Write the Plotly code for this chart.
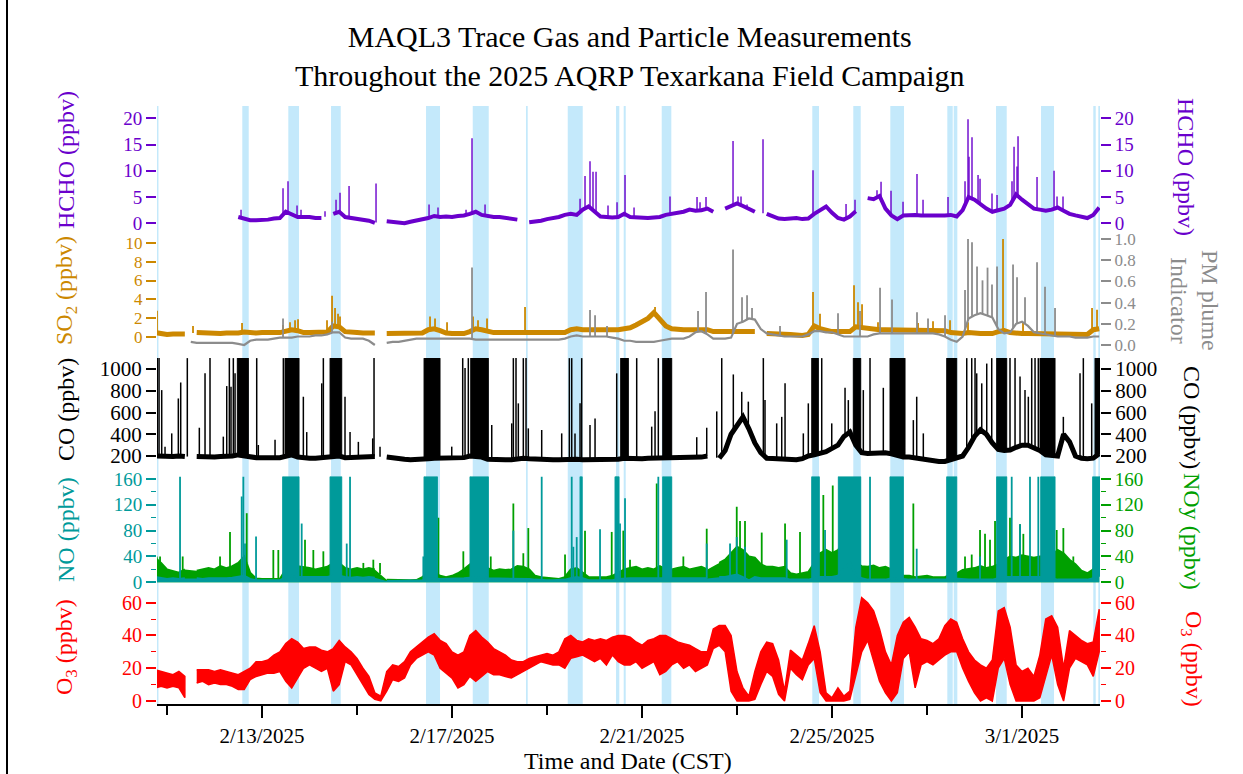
import numpy as np
import pandas as pd
import plotly.graph_objects as go

# ---------------- data ----------------
GRID_START = "2025-02-10 18:00"   # first point of the 3-hourly base grid
GRID_STEP_HOURS = 3
DAY_ZERO = "2025-02-10 00:00"     # spike / burst times are days after this
N = None

HCHO = [N, N, N, N, N, N, N, N,
        N, N, N, N, N, N, 1.2, 0.9,
        0.6, 0.6, 0.6, 0.7, 0.9, 1.0, 2.2, 1.8,
        1.2, 1.2, 1.2, 1.0, 1.0, N, 1.8, 2.2,
        1.2, 1.0, 0.9, 0.7, 0.5, 0.1, N, 0.4,
        0.3, 0.1, 0.0, 0.3, 0.5, 0.8, 1.0, 1.4,
        1.2, 1.3, 1.2, 1.4, 1.5, 1.8, 2.2, 1.6,
        1.4, 1.2, 1.2, 1.0, 0.9, 0.7, N, 0.2,
        0.3, 0.5, 0.8, 1.0, 1.2, 1.6, 1.8, 1.6,
        2.6, 3.2, 2.2, 1.3, 1.2, 1.1, 1.2, 1.8,
        1.2, 1.1, 1.0, 1.0, 1.1, 1.2, 1.6, 1.8,
        2.0, 2.2, 2.6, 2.4, 2.5, 2.8, 2.2, N,
        2.8, 3.4, 3.8, 3.3, 2.8, 2.2, N, 1.8,
        1.3, 0.9, 0.8, 0.9, 1.0, 0.8, 0.9, 1.8,
        2.4, 3.2, 2.0, 1.0, 0.7, 1.3, 2.3, N,
        4.8, 4.6, 5.2, 2.8, 1.5, 0.8, 1.5, 1.6,
        1.6, 1.5, 1.5, 1.4, 1.4, 1.5, 1.6, 1.3,
        2.5, 5.0, 4.5, 3.6, 2.8, 2.2, 2.5, 2.8,
        3.5, 5.5, 4.5, 3.6, 2.8, 2.6, 2.4, 2.6,
        3.0, 2.4, 1.8, 1.5, 1.2, 1.0, 1.6, 3.0]

SO2 = [0.5, 0.35, 0.3, 0.35, 0.3, 0.35, N, 0.5,
       0.45, 0.4, 0.45, 0.4, 0.45, 0.4, 0.45, 0.55,
       0.45, 0.45, 0.5, 0.45, 0.5, 0.5, 0.7, 0.8,
       0.7, 0.5, 0.5, 0.5, 0.5, 0.55, 1.2, 1.1,
       0.6, 0.5, 0.5, 0.45, 0.5, 0.45, N, 0.4,
       0.4, 0.4, 0.4, 0.4, 0.4, 0.45, 0.8, 0.9,
       0.7, 0.45, 0.4, 0.45, 0.4, 0.6, 0.9, 0.8,
       0.6, 0.5, 0.5, 0.5, 0.45, 0.5, 0.5, 0.5,
       0.45, 0.5, 0.5, 0.45, 0.5, 0.5, 0.8, 0.9,
       0.8, 0.8, 0.7, 0.8, 0.8, 0.7, 0.8, 0.9,
       1.0, 1.3, 1.6, 2.0, 2.6, 1.9, 1.2, 0.9,
       0.8, 0.8, 0.8, 0.8, 0.8, 0.8, 0.6, 0.6,
       0.6, 0.6, 0.6, 0.6, 0.6, 0.6, N, 0.4,
       0.4, 0.4, 0.35, 0.3, 0.25, 0.2, 0.3, 1.2,
       0.9, 0.7, 0.6, 0.6, 0.6, 0.6, 1.1, 1.0,
       0.9, 0.8, 0.8, 0.8, 0.8, 0.8, 0.7, 0.8,
       0.8, 0.8, 0.7, 0.8, 0.8, 0.7, 0.5, 0.4,
       0.4, 0.5, 0.4, 0.4, 0.4, 0.4, 0.6, 0.7,
       0.5, 0.4, 0.4, 0.4, 0.4, 0.4, 0.4, 0.35,
       0.35, 0.3, 0.3, 0.35, 0.3, 0.3, 0.8, 0.9]

PM = [N, N, N, N, N, N, 0.03, 0.02,
      0.02, 0.02, 0.02, 0.02, 0.02, 0.02, 0.01, 0.0,
      0.04, 0.05, 0.05, 0.05, 0.06, 0.07, 0.07, 0.07,
      0.08, 0.08, 0.08, 0.09, 0.09, 0.1, 0.12, 0.12,
      0.07, 0.06, 0.06, 0.06, 0.04, 0.0, N, 0.02,
      0.03, 0.03, 0.04, 0.05, 0.06, 0.06, 0.06, 0.06,
      0.06, 0.06, 0.06, 0.06, 0.06, 0.06, 0.05, 0.05,
      0.05, 0.05, 0.05, 0.05, 0.05, 0.05, 0.05, 0.05,
      0.05, 0.05, 0.05, 0.05, 0.05, 0.06, 0.08, 0.09,
      0.08, 0.08, 0.08, 0.08, 0.08, 0.07, 0.06, 0.04,
      0.04, 0.03, 0.03, 0.03, 0.03, 0.04, 0.05, 0.06,
      0.06, 0.06, 0.08, 0.12, 0.13, 0.1, 0.06, 0.06,
      0.06, 0.07, 0.2, 0.22, 0.25, 0.24, 0.15, 0.11,
      0.1, 0.09, 0.08, 0.08, 0.08, 0.08, 0.1, 0.13,
      0.13, 0.12, 0.12, 0.1, 0.08, 0.08, 0.08, 0.08,
      0.08, 0.1, 0.11, 0.11, 0.11, 0.11, 0.11, 0.11,
      0.11, 0.11, 0.11, 0.11, 0.1, 0.08, 0.05, 0.03,
      0.08, 0.25, 0.28, 0.3, 0.28, 0.26, 0.15, 0.11,
      0.12, 0.2, 0.22, 0.18, 0.12, 0.11, 0.1, 0.09,
      0.08, 0.08, 0.08, 0.07, 0.07, 0.07, 0.08, 0.08]

CO = [200, 195, 190, 195, 200, 195, N, 195,
      190, 195, 190, 195, 195, 200, 210, 200,
      190, 185, 185, 180, 185, 185, 200, 210,
      190, 180, 180, 180, 185, 185, 200, 200,
      185, 185, 185, 190, 190, 195, N, 190,
      180, 175, 170, 165, 165, 170, 175, 180,
      180, 175, 180, 180, 185, 200, 200, 190,
      170, 165, 160, 165, 165, 175, 180, 175,
      170, 170, 165, 165, 165, 170, 170, 170,
      165, 165, 165, 165, 165, 165, 170, 180,
      175, 175, 175, 180, 180, 180, 180, 180,
      180, 180, 185, 185, 190, 200, N, 180,
      250, 400, 480, 560, 450, 320, 230, 180,
      178, 175, 172, 168, 165, 175, 200, 210,
      225, 240, 270, 300, 380, 420, 300, 230,
      224, 226, 222, 230, 220, 200, 190, 190,
      180, 170, 165, 160, 150, 150, 170, 190,
      200, 280, 380, 440, 400, 320, 260, 250,
      255, 280, 300, 300, 280, 250, 210, 200,
      200, 400, 330, 200, 180, 175, 180, 220]

NO = [8, 6, 5, 6, 5, 6, N, 6,
      5, 6, 6, 5, 6, 7, 8, 10,
      5, 3, 3, 3, 2, 3, 8, 10,
      8, 8, 7, 8, 7, 8, 10, 10,
      8, 7, 8, 7, 8, 7, N, 2,
      2, 2, 2, 2, 2, 3, 5, 6,
      5, 5, 5, 6, 6, 7, 8, 8,
      6, 6, 5, 6, 6, 6, 6, 5,
      4, 3, 3, 3, 3, 4, 6, 8,
      6, 3, 3, 3, 3, 3, 5, 6,
      6, 6, 6, 6, 6, 6, 6, 6,
      6, 6, 6, 6, 6, 6, N, 8,
      8, 10, 12, 8, 3, 8, 6, 6,
      6, 6, 6, 4, 4, 4, 4, 6,
      8, 8, 8, 10, 20, 30, 12, 6,
      4, 4, 4, 4, 6, 6, 5, 4,
      4, 4, 4, 4, 4, 4, 6, 5,
      4, 4, 4, 4, 4, 4, 6, 8,
      8, 8, 8, 8, 8, 8, 6, 6,
      4, 4, 4, 4, 4, 4, 6, 10]

NOY = [38, 30, 20, 18, 15, 20, N, 18,
       20, 22, 20, 25, 22, 25, 30, 40,
       15, 6, 5, 5, 4, 5, 20, 30,
       25, 24, 22, 20, 22, 24, 30, 30,
       22, 20, 22, 20, 22, 20, N, 4,
       3.5, 3.5, 3.5, 3, 3.5, 8, 15, 15,
       10, 8, 10, 14, 20, 28, 35, 30,
       22, 18, 20, 19, 20, 25, 24, 20,
       10, 8, 7, 6, 5, 8, 20, 22,
       15, 8, 8, 8, 8, 10, 15, 20,
       22, 24, 20, 22, 20, 25, 20, 20,
       22, 24, 20, 22, 24, 20, N, 30,
       35, 45, 55, 50, 40, 38, 28, 24,
       24, 22, 24, 14, 12, 14, 16, 30,
       45, 50, 45, 50, 60, 50, 30, 25,
       24, 26, 22, 24, 20, 14, 10, 10,
       8, 9, 10, 8, 8, 8, 12, 14,
       19, 20, 22, 25, 22, 24, 28, 35,
       40, 38, 42, 40, 38, 40, 40, 42,
       50, 45, 35, 28, 18, 14, 20, 40]

O3_HI = [19, 18, 17, 16, 18, 15, N, 19,
         19, 19, 18, 19, 18, 17, 16, 18,
         20, 24, 24, 25, 28, 30, 35, 38,
         36, 32, 33, 33, 31, 30, 32, 37,
         33, 30, 26, 20, 15, 5, 3, 18,
         22, 21, 24, 30, 33, 36, 39, 41,
         37, 35, 30, 28, 30, 40, 43, 39,
         36, 32, 30, 28, 25, 24, 24, 26,
         27, 28, 29, 28, 30, 38, 40, 37,
         36, 38, 37, 38, 37, 39, 40, 40,
         39, 36, 34, 37, 38, 40, 40, 38,
         36, 35, 34, 32, 30, 30, 44, 46,
         46, 40, 18, 8, 3, 18, 30, 36,
         35, 25, 6, 31, 28, 25, 35, 46,
         30, 5, 2, 8, 3, 6, 45, 63,
         60, 55, 44, 30, 22, 40, 48, 51,
         45, 38, 37, 35, 38, 46, 50, 48,
         38, 30, 25, 22, 20, 25, 55, 57,
         45, 22, 18, 20, 15, 28, 50, 52,
         45, 20, 43, 40, 37, 35, 36, 56]

O3_LO = [8, 9, 8, 9, 8, 2, N, 11,
         12, 10, 11, 10, 10, 9, 7, 7,
         13, 15, 16, 17, 17, 18, 12, 8,
         14, 20, 22, 20, 18, 20, 6, 10,
         24, 22, 16, 10, 4, 1, 0, 6,
         13, 12, 14, 22, 26, 28, 30, 28,
         20, 17, 14, 8, 10, 15, 12, 15,
         18, 16, 16, 15, 14, 16, 18, 20,
         22, 24, 23, 22, 22, 20, 26, 27,
         28, 26, 24, 26, 22, 28, 24, 22,
         22, 24, 20, 22, 24, 16, 18, 22,
         24, 20, 22, 18, 20, 22, 32, 34,
         30, 6, 0, 0, 0, 1, 10, 18,
         15, 4, 0, 20, 16, 13, 22, 26,
         5, 0, 0, 0, 0, 1, 15, 30,
         37, 25, 12, 5, 0, 5, 26, 30,
         8, 22, 24, 22, 25, 28, 30, 30,
         20, 12, 5, 0, 2, 0, 20, 26,
         10, 0, 0, 0, 0, 2, 15, 28,
         10, 0, 20, 26, 24, 22, 15, 30]

# spikes: time (days after DAY_ZERO) and peak value
HCHO_SPK_T = [2.558, 3.442, 3.547, 3.737, 3.821, 4.326, 4.558, 4.642, 4.832, 5.400,
              6.516, 6.705, 7.295, 7.421, 7.695, 9.695, 9.800, 9.905, 9.968, 10.032,
              10.284, 10.474, 10.642, 10.832, 11.589, 12.158, 12.221, 12.347, 12.916, 13.021,
              13.084, 13.211, 13.547, 14.600, 15.295, 15.484, 15.947, 16.032, 16.242, 16.495,
              16.789, 16.916, 17.442, 17.800, 17.863, 17.884, 17.947, 18.074, 18.116, 18.368,
              18.474, 18.789, 18.832, 18.895, 18.916, 19.316, 19.674, 19.737, 19.863]
HCHO_SPK_V = [2.6, 6.7, 8.0, 3.4, 2.6, 2.3, 4.5, 5.8, 7.1, 7.6,
              3.6, 3.0, 2.6, 16.2, 3.6, 4.7, 9.0, 11.8, 9.8, 9.8,
              3.4, 4.0, 9.2, 3.0, 5.1, 5.0, 4.0, 5.0, 15.7, 5.1,
              5.1, 3.6, 16.0, 10.1, 3.7, 4.5, 6.3, 7.9, 6.2, 4.1,
              9.4, 4.5, 5.0, 8.0, 19.8, 12.7, 16.4, 9.2, 8.5, 5.7,
              5.4, 8.0, 14.6, 10.8, 16.6, 8.8, 10.0, 5.1, 5.1]

SO2_SPK_T = [0.789, 1.547, 2.579, 3.442, 3.589, 3.695, 3.758, 4.368, 4.474, 4.537,
             4.600, 4.642, 6.537, 6.642, 6.895, 7.442, 7.547, 7.737, 8.537, 11.274,
             14.600, 14.747, 15.463, 15.547, 15.632, 15.968, 16.811, 17.126, 17.484, 17.863,
             18.600, 19.021, 20.474, 20.579]
SO2_SPK_V = [2.8, 1.2, 1.5, 1.3, 1.6, 1.8, 1.9, 1.8, 4.4, 3.1,
             2.5, 2.2, 2.2, 2.0, 1.6, 2.2, 1.8, 2.0, 3.2, 3.2,
             4.8, 2.5, 5.5, 3.7, 3.5, 1.6, 1.5, 1.7, 1.8, 1.6,
             10.4, 1.5, 3.1, 2.9]

PM_SPK_T = [3.442, 4.474, 7.421, 9.905, 10.011, 10.263, 12.179, 12.347, 12.916, 13.105,
            13.211, 13.316, 13.905, 15.126, 15.589, 16.011, 16.263, 16.789, 17.021, 17.379,
            17.800, 17.863, 17.947, 18.053, 18.168, 18.274, 18.368, 18.474, 18.811, 18.895,
            19.063, 19.316, 19.484, 19.695]
PM_SPK_V = [0.25, 0.22, 0.73, 0.33, 0.28, 0.18, 0.32, 0.50, 0.90, 0.45,
            0.47, 0.35, 0.18, 0.30, 0.32, 0.54, 0.43, 0.31, 0.25, 0.28,
            0.52, 1.00, 0.97, 0.74, 0.61, 0.73, 0.57, 0.74, 0.76, 0.64,
            0.45, 0.78, 0.55, 0.35]

CO_SPK_T = [0.796, 0.832, 0.888, 0.958, 1.099, 1.238, 1.288, 1.427, 1.680, 1.800,
            1.905, 2.185, 2.257, 2.312, 2.347, 2.396, 2.432, 2.888, 2.922, 3.274,
            3.449, 3.870, 3.941, 4.257, 4.291, 4.747, 4.853, 5.028, 5.330, 5.358,
            5.484, 6.994, 7.225, 7.274, 7.343, 7.836, 8.257, 8.291, 8.347, 8.396,
            8.501, 8.558, 8.606, 8.888, 9.309, 9.470, 9.520, 9.589, 9.695, 9.730,
            9.905, 10.011, 10.467, 10.888, 11.204, 11.274, 11.343, 12.152, 12.362, 12.573,
            12.678, 12.922, 13.099, 13.238, 13.554, 13.589, 13.835, 13.941, 14.011, 14.396,
            14.501, 14.783, 14.994, 15.274, 15.343, 15.659, 15.800, 16.080, 16.712, 16.783,
            16.922, 17.836, 17.941, 18.011, 18.046, 18.152, 18.257, 18.362, 18.747, 18.853,
            18.958, 19.063, 19.133, 19.204, 19.274, 19.343, 19.870, 20.221, 20.291, 20.467]
CO_SPK_V = [1100, 1100, 806, 286, 408, 729, 876, 1100, 460, 960,
            1100, 378, 843, 1100, 837, 1100, 960, 1100, 301, 350,
            1100, 745, 420, 868, 1100, 745, 420, 330, 362, 1100,
            286, 286, 1100, 1010, 1100, 485, 500, 1100, 1100, 684,
            1100, 1100, 454, 439, 408, 1100, 1100, 408, 684, 1100,
            485, 545, 960, 1100, 470, 612, 1100, 373, 460, 610,
            1100, 950, 790, 700, 1100, 714, 500, 560, 868, 408,
            684, 1100, 500, 827, 714, 806, 1100, 827, 530, 745,
            408, 1100, 1100, 1100, 960, 868, 1050, 1100, 1100, 1100,
            930, 806, 745, 1100, 1100, 1100, 560, 960, 1100, 684]

NO_SPK_T = [1.274, 2.572, 2.607, 2.642, 2.874, 3.835, 4.783, 4.853, 6.396, 8.291,
            8.888, 9.520, 9.554, 9.625, 10.116, 10.537, 10.642, 11.343, 12.362, 12.853,
            12.994, 13.168, 14.046, 14.853, 15.800, 16.783, 18.116, 18.783, 18.958, 19.168,
            19.343]
NO_SPK_V = [164, 133, 164, 60, 71, 91, 60, 164, 40, 80,
            164, 164, 55, 70, 82, 91, 130, 164, 60, 60,
            70, 55, 66, 81, 164, 52, 40, 164, 90, 164,
            164]

NOY_SPK_T = [0.783, 0.853, 1.330, 2.116, 2.326, 2.678, 3.238, 3.343, 3.905, 4.080,
             4.291, 5.133, 5.343, 5.484, 6.642, 6.712, 7.238, 7.815, 8.291, 8.501,
             8.606, 9.379, 9.800, 10.362, 10.467, 10.606, 10.747, 11.309, 11.870, 12.362,
             12.994, 13.063, 13.168, 13.520, 14.011, 14.326, 14.817, 15.015, 15.554, 16.712,
             17.800, 17.941, 18.116, 18.221, 18.326, 18.432, 18.747, 18.958, 19.028, 19.730,
             19.870, 20.080]
NOY_SPK_V = [40, 40, 40, 40, 78, 107, 50, 50, 66, 50,
             48, 30, 35, 30, 128, 100, 48, 40, 122, 45,
             84, 43, 80, 78, 164, 80, 35, 153, 40, 83,
             117, 95, 95, 77, 91, 78, 135, 150, 105, 122,
             40, 43, 81, 75, 66, 95, 100, 90, 75, 81,
             84, 40]

# saturated bursts (start, end in days after DAY_ZERO)
CO_BURST_START = [2.480, 3.484, 4.432, 6.411, 7.394, 10.551, 11.436, 14.573, 15.448,
                  16.221, 17.415, 18.467, 19.379, 20.537]
CO_BURST_END = [2.712, 3.779, 4.678, 6.747, 7.764, 10.712, 11.625, 14.712, 15.604,
                16.537, 17.625, 18.678, 19.695, 20.642]
CO_BURST_TOP = 1100
NO_BURST_START = [3.435, 4.432, 6.411, 7.379, 9.695, 10.432, 11.436, 14.573, 15.133,
                  16.221, 17.415, 18.467, 19.394, 20.488]
NO_BURST_END = [3.779, 4.678, 6.691, 7.764, 9.740, 10.516, 11.625, 14.732, 15.604,
                16.501, 17.625, 18.678, 19.695, 20.642]
NO_BURST_TOP = 164

# highlighted periods (blue bands)
BAND_START = ["2025-02-10 18:40", "2025-02-12 14:02", "2025-02-13 13:17", "2025-02-14 10:52",
              "2025-02-16 10:52", "2025-02-17 10:28", "2025-02-18 13:23", "2025-02-19 10:28",
              "2025-02-20 10:52", "2025-02-20 14:45", "2025-02-21 09:57", "2025-02-24 14:02",
              "2025-02-25 10:45", "2025-02-26 05:27", "2025-02-27 10:15", "2025-02-27 13:29",
              "2025-02-28 10:52", "2025-03-01 09:36", "2025-03-02 12:01", "2025-03-02 14:33"]
BAND_END = ["2025-02-10 19:40", "2025-02-12 17:17", "2025-02-13 18:42", "2025-02-14 15:46",
            "2025-02-16 17:56", "2025-02-17 18:33", "2025-02-18 14:15", "2025-02-19 18:02",
            "2025-02-20 12:32", "2025-02-20 15:46", "2025-02-21 14:48", "2025-02-24 17:25",
            "2025-02-25 14:30", "2025-02-26 12:23", "2025-02-27 12:59", "2025-02-27 15:19",
            "2025-02-28 16:16", "2025-03-01 16:10", "2025-03-02 13:15", "2025-03-02 15:24"]

X_START = "2025-02-10 18:56"
X_END = "2025-03-02 15:24"

# ---------------- helpers ----------------
n_grid = len(HCHO)
grid_t = pd.Timestamp(GRID_START) + pd.to_timedelta(np.arange(n_grid) * GRID_STEP_HOURS, unit="h")
grid_d = np.asarray((grid_t - pd.Timestamp(DAY_ZERO)) / pd.Timedelta(days=1), dtype=float)
grid_s = [t.strftime("%Y-%m-%d %H:%M:%S") for t in grid_t]


def arr(v):
    return np.array([np.nan if x is None else x for x in v], dtype=float)


def tstr(d):
    return (pd.Timestamp(DAY_ZERO) + pd.Timedelta(days=float(d))).strftime("%Y-%m-%d %H:%M:%S")


def base_at(vals, d):
    ok = ~np.isnan(vals)
    return float(np.interp(d, grid_d[ok], vals[ok]))


def spike_xy(vals, T, V):
    xs, ys = [], []
    for d, p in zip(T, V):
        t = tstr(d)
        xs += [t, t, None]
        ys += [base_at(vals, d), p, None]
    return xs, ys


def burst_xy(vals, S, E, top):
    xs, ys = [], []
    for s, e in zip(S, E):
        ts, te = tstr(s), tstr(e)
        xs += [ts, ts, te, te, ts, None]
        ys += [base_at(vals, s), top, top, base_at(vals, e), base_at(vals, s), None]
    return xs, ys


def clean(v):
    return [None if np.isnan(x) else x for x in v]


hcho, so2, pm, co = arr(HCHO), arr(SO2), arr(PM), arr(CO)
no, noy, o3h, o3l = arr(NO), arr(NOY), arr(O3_HI), arr(O3_LO)

PURPLE = "#6a00cc"
ORANGE = "#cc8800"
GRAY = "#8c8c8c"
TEAL = "#009a9a"
GREEN = "#00a000"
RED = "#ff0000"
BAND = "#c4e9fb"
FONT = "Liberation Serif"

fig = go.Figure()

# HCHO
fig.add_trace(go.Scatter(x=grid_s, y=clean(hcho), mode="lines", line=dict(color=PURPLE, width=4),
                         yaxis="y", showlegend=False))
sx, sy = spike_xy(hcho, HCHO_SPK_T, HCHO_SPK_V)
fig.add_trace(go.Scatter(x=sx, y=sy, mode="lines", line=dict(color=PURPLE, width=1.4), yaxis="y", showlegend=False))
fig.add_trace(go.Scatter(x=[None], y=[None], yaxis="y2", showlegend=False))

# SO2 + PM
fig.add_trace(go.Scatter(x=grid_s, y=clean(so2), mode="lines", line=dict(color=ORANGE, width=5),
                         yaxis="y3", showlegend=False))
sx, sy = spike_xy(so2, SO2_SPK_T, SO2_SPK_V)
fig.add_trace(go.Scatter(x=sx, y=sy, mode="lines", line=dict(color=ORANGE, width=1.8), yaxis="y3", showlegend=False))
fig.add_trace(go.Scatter(x=grid_s, y=clean(pm), mode="lines", line=dict(color=GRAY, width=2.2),
                         yaxis="y4", showlegend=False))
sx, sy = spike_xy(pm, PM_SPK_T, PM_SPK_V)
fig.add_trace(go.Scatter(x=sx, y=sy, mode="lines", line=dict(color=GRAY, width=1.8), yaxis="y4", showlegend=False))

# CO
bx, by = burst_xy(co, CO_BURST_START, CO_BURST_END, CO_BURST_TOP)
fig.add_trace(go.Scatter(x=bx, y=by, mode="lines", fill="toself", fillcolor="black",
                         line=dict(color="black", width=1), yaxis="y5", showlegend=False))
fig.add_trace(go.Scatter(x=grid_s, y=clean(co), mode="lines", line=dict(color="black", width=5),
                         yaxis="y5", showlegend=False))
sx, sy = spike_xy(co, CO_SPK_T, CO_SPK_V)
fig.add_trace(go.Scatter(x=sx, y=sy, mode="lines", line=dict(color="black", width=1.5), yaxis="y5", showlegend=False))
fig.add_trace(go.Scatter(x=[None], y=[None], yaxis="y6", showlegend=False))

# NOy (base axis, right) then NO (overlay, left) drawn on top
fig.add_trace(go.Scatter(x=grid_s, y=clean(noy), mode="lines", fill="tozeroy", fillcolor=GREEN,
                         line=dict(color=GREEN, width=2), yaxis="y7", showlegend=False))
sx, sy = spike_xy(noy, NOY_SPK_T, NOY_SPK_V)
fig.add_trace(go.Scatter(x=sx, y=sy, mode="lines", line=dict(color=GREEN, width=1.8), yaxis="y7", showlegend=False))
bx, by = burst_xy(no, NO_BURST_START, NO_BURST_END, NO_BURST_TOP)
fig.add_trace(go.Scatter(x=bx, y=by, mode="lines", fill="toself", fillcolor=TEAL,
                         line=dict(color=TEAL, width=1), yaxis="y8", showlegend=False))
fig.add_trace(go.Scatter(x=grid_s, y=clean(no), mode="lines", fill="tozeroy", fillcolor=TEAL,
                         line=dict(color=TEAL, width=2.2), yaxis="y8", showlegend=False))
sx, sy = spike_xy(no, NO_SPK_T, NO_SPK_V)
fig.add_trace(go.Scatter(x=sx, y=sy, mode="lines", line=dict(color=TEAL, width=1.8), yaxis="y8", showlegend=False))

# O3 envelope (contiguous segments)
ok = ~(np.isnan(o3h) | np.isnan(o3l))
segs, cur = [], []
for i in range(n_grid):
    if ok[i]:
        cur.append(i)
    elif cur:
        segs.append(cur)
        cur = []
if cur:
    segs.append(cur)
for sg in segs:
    xs = [grid_s[i] for i in sg] + [grid_s[i] for i in reversed(sg)]
    ys = [o3h[i] for i in sg] + [o3l[i] for i in reversed(sg)]
    fig.add_trace(go.Scatter(x=xs, y=ys, mode="lines", fill="toself", fillcolor=RED,
                             line=dict(color=RED, width=1.5), yaxis="y9", showlegend=False))
fig.add_trace(go.Scatter(x=[None], y=[None], yaxis="y10", showlegend=False))

# ---------------- layout ----------------
TOP_PX, BOT_PX = 104, 704
PLOT_H = BOT_PX - TOP_PX
L_PX, R_PX = 157, 1100


def py(p):
    return (BOT_PX - p) / PLOT_H


def px(p):
    return (p - L_PX) / (R_PX - L_PX)


TICK = 18


def yax(color, dtick, domain=None, rng=None, side="left", overlaying=None, fmt=None, minor=None, size=TICK):
    d = dict(range=rng, color=color, tickcolor=color, linecolor=color,
             tickfont=dict(family=FONT, size=size, color=color),
             ticks="outside", ticklen=10, tickwidth=1.5, showgrid=False, zeroline=False,
             showline=False, dtick=dtick, tick0=0, side=side, anchor="x", fixedrange=True)
    if domain is not None:
        d["domain"] = domain
    if overlaying:
        d["overlaying"] = overlaying
    if fmt:
        d["tickformat"] = fmt
    if minor:
        d["minor"] = dict(dtick=minor, ticklen=5, tickcolor=color, tickwidth=1.2, ticks="outside")
    return d


hcho_dom = [py(228), py(106)]
so2_dom = [py(348), py(232)]
co_dom = [py(466), py(358.1)]
no_dom = [py(590), py(476.5)]
o3_dom = [py(704), py(594)]

hcho_rng = [(223.3 - 228) / 5.25, (223.3 - 106) / 5.25]
so2_rng = [(337.3 - 348) / 9.46, (337.3 - 232) / 9.46]
pm_rng = [(345 - 348) / 106, (345 - 232) / 106]
co_rng = [200 + (456 - 466) / 0.10875, 200 + (456 - 358.1) / 0.10875]
no_rng = [(582.3 - 590) / 0.6458, (582.3 - 476.5) / 0.6458]
o3_rng = [(701 - 704) / 1.639, (701 - 594) / 1.639]

shapes = []
for s, e in zip(BAND_START, BAND_END):
    shapes.append(dict(type="rect", xref="x", yref="paper", x0=s, x1=e, y0=0, y1=py(106),
                       fillcolor=BAND, line=dict(width=0), layer="below"))
# figure frame line at the left edge
shapes.append(dict(type="line", xref="paper", yref="paper", x0=px(7), x1=px(7), y0=py(0), y1=py(774),
                   line=dict(color="black", width=2)))

ann = []


def title_ann(text, xp, yp, color, angle):
    ann.append(dict(text=text, x=px(xp), y=py(yp), xref="paper", yref="paper", showarrow=False,
                    textangle=angle, xanchor="center", yanchor="middle",
                    font=dict(family=FONT, size=24, color=color)))


title_ann("HCHO (ppbv)", 66, 160, PURPLE, -90)
title_ann("SO<sub>2</sub> (ppbv)", 66, 291, ORANGE, -90)
title_ann("CO (ppbv)", 66, 410, "black", -90)
title_ann("NO (ppbv)", 66, 530, TEAL, -90)
title_ann("O<sub>3</sub> (ppbv)", 66, 647, RED, -90)
title_ann("HCHO (ppbv)", 1186, 167, PURPLE, 90)
title_ann("PM plume<br>Indicator", 1195, 300, GRAY, 90)
title_ann("CO (ppbv)", 1192, 417, "black", 90)
title_ann("NOy (ppbv)", 1192, 531, GREEN, 90)
title_ann("O<sub>3</sub> (ppbv)", 1192, 659, RED, 90)

ann.append(dict(text="MAQL3 Trace Gas and Particle Measurements<br>Throughout the 2025 AQRP Texarkana Field Campaign",
                x=px(629), y=py(56), xref="paper", yref="paper", showarrow=False,
                xanchor="center", yanchor="middle", font=dict(family=FONT, size=30, color="black")))
ann.append(dict(text="Time and Date (CST)", x=px(628), y=py(761), xref="paper", yref="paper",
                showarrow=False, xanchor="center", yanchor="middle",
                font=dict(family=FONT, size=24, color="black")))

fig.update_layout(
    width=1243, height=774,
    margin=dict(l=L_PX, r=1243 - R_PX, t=TOP_PX, b=774 - BOT_PX),
    paper_bgcolor="white", plot_bgcolor="white",
    showlegend=False,
    shapes=shapes,
    annotations=ann,
    xaxis=dict(type="date", range=[X_START, X_END], anchor="y9", showgrid=False, zeroline=False,
               showline=True, linecolor="black", linewidth=2,
               ticks="outside", ticklen=12, tickwidth=2, tickcolor="black",
               tick0="2025-02-13", dtick=4 * 86400000, tickformat="%-m/%-d/%Y",
               tickfont=dict(family=FONT, size=21, color="black"),
               minor=dict(dtick=2 * 86400000, tick0="2025-02-11", ticklen=9, tickwidth=2,
                          tickcolor="black", ticks="outside"),
               fixedrange=True),
    yaxis=yax(PURPLE, 5, domain=hcho_dom, rng=hcho_rng, size=19),
    yaxis2=yax(PURPLE, 5, rng=hcho_rng, side="right", overlaying="y", size=19),
    yaxis3=yax(ORANGE, 2, domain=so2_dom, rng=so2_rng, size=17),
    yaxis4=yax(GRAY, 0.2, rng=pm_rng, side="right", overlaying="y3", fmt=".1f", size=17),
    yaxis5=yax("black", 200, domain=co_dom, rng=co_rng, size=21),
    yaxis6=yax("black", 200, rng=co_rng, side="right", overlaying="y5", size=21),
    yaxis7=yax(GREEN, 40, domain=no_dom, rng=no_rng, side="right", minor=20, size=19),
    yaxis8=yax(TEAL, 40, rng=no_rng, side="left", overlaying="y7", minor=20, size=19),
    yaxis9=yax(RED, 20, domain=o3_dom, rng=o3_rng, minor=10, size=20),
    yaxis10=yax(RED, 20, rng=o3_rng, side="right", overlaying="y9", minor=10, size=20),
)

fig.write_html("out.html")
